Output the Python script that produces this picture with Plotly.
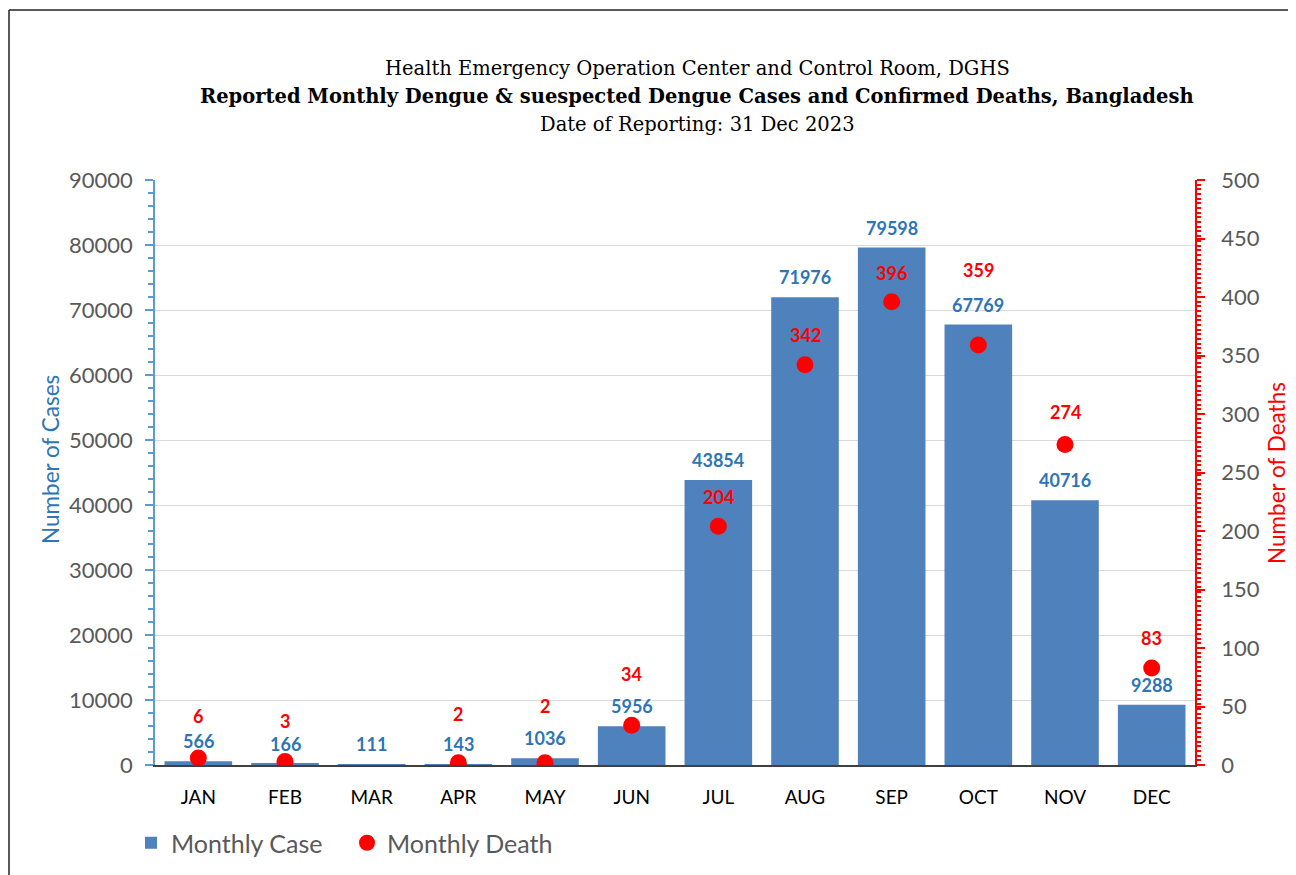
import plotly.graph_objects as go

months = ["JAN", "FEB", "MAR", "APR", "MAY", "JUN", "JUL", "AUG", "SEP", "OCT", "NOV", "DEC"]
cases = [566, 166, 111, 143, 1036, 5956, 43854, 71976, 79598, 67769, 40716, 9288]
deaths = [6, 3, None, 2, 2, 34, 204, 342, 396, 359, 274, 83]
# label vertical offsets (pixels) for death labels, as placed in the original
death_label_shift = [42, 40, 0, 49, 57, 51, 29, 30, 29, 75, 32, 30]

title1 = "Health Emergency Operation Center and Control Room, DGHS"
title2 = "Reported Monthly Dengue & suespected Dengue Cases and Confirmed Deaths, Bangladesh"
title3 = "Date of Reporting: 31 Dec 2023"

BLUE_BAR = "#4F81BD"
BLUE_TXT = "#2E75B6"
BLUE_AX = "#5B9BD5"
RED = "#FF0000"
GRAY = "#595959"
FONT = "Lato"
SERIF = "DejaVu Serif"

# plot area in page pixels: x 155..1195, y 180..765
PX0, PW, PY0, PH = 155, 1040, 765, 585
def px(x):
    return (x - PX0) / PW
def py(y):
    return (PY0 - y) / PH

fig = go.Figure()
fig.add_trace(go.Bar(
    x=months, y=cases, name="Monthly Case", marker=dict(color=BLUE_BAR, line=dict(width=0)),
    yaxis="y", legend="legend",
))
fig.add_trace(go.Scatter(
    x=months, y=deaths, name="Monthly Death", mode="markers",
    marker=dict(color=RED, size=17), yaxis="y2", legend="legend2",
))

ann = []
for m, c in zip(months, cases):
    ann.append(dict(x=m, y=c, xref="x", yref="y", text=f"<b>{c}</b>", showarrow=False,
                    yanchor="middle", yshift=20,
                    font=dict(family=FONT, size=18, color=BLUE_TXT)))
for m, d, s in zip(months, deaths, death_label_shift):
    if d is None:
        continue
    ann.append(dict(x=m, y=d, xref="x", yref="y2", text=f"<b>{d}</b>", showarrow=False,
                    yanchor="middle", yshift=s,
                    font=dict(family=FONT, size=18, color=RED)))

# titles
for txt, yy in [(title1, 68), (f"<b>{title2}</b>", 96), (title3, 125)]:
    ann.append(dict(x=px(697), y=py(yy), xref="paper", yref="paper", text=txt, showarrow=False,
                    xanchor="center", yanchor="middle",
                    font=dict(family=SERIF, size=19.5, color="black")))

# axis titles
ann.append(dict(x=px(50), y=py(460), xref="paper", yref="paper", text="Number of Cases",
                showarrow=False, textangle=-90, xanchor="center", yanchor="middle",
                font=dict(family=FONT, size=22.5, color=BLUE_TXT)))
ann.append(dict(x=px(1276), y=py(473), xref="paper", yref="paper", text="Number of Deaths",
                showarrow=False, textangle=-90, xanchor="center", yanchor="middle",
                font=dict(family=FONT, size=22.5, color=RED)))

fig.update_layout(
    width=1288, height=867,
    margin=dict(l=147, r=101, t=172, b=110, autoexpand=False),
    paper_bgcolor="white", plot_bgcolor="white",
    bargap=0.22,
    showlegend=True,
    legend=dict(orientation="h", x=px(131), xanchor="left", y=py(843), yanchor="middle",
                font=dict(family=FONT, size=25, color=GRAY), itemwidth=30),
    legend2=dict(orientation="h", x=px(347), xanchor="left", y=py(843), yanchor="middle",
                 font=dict(family=FONT, size=25, color=GRAY), itemwidth=30),
    xaxis=dict(
        range=[-0.5, 11.5],
        showline=True, linecolor="#404040", linewidth=1.5, ticks="",
        tickfont=dict(family=FONT, size=19, color="black"),
        showgrid=False, ticklabelstandoff=14,
    ),
    yaxis=dict(
        range=[0, 90000], dtick=10000, tickmode="linear", tickformat="d",
        showline=True, linecolor=BLUE_AX, linewidth=1.5,
        ticks="outside", ticklen=8, tickcolor=BLUE_AX, tickwidth=1.5,
        minor=dict(dtick=2000, ticks="outside", ticklen=5, tickcolor=BLUE_AX, showgrid=False),
        showgrid=True, gridcolor="#D9D9D9", gridwidth=1,
        tickfont=dict(family=FONT, size=22, color=GRAY),
        zeroline=False, ticklabelstandoff=8, automargin=False,
    ),
    yaxis2=dict(
        range=[0, 500], dtick=50, tickmode="linear", overlaying="y", side="right",
        showline=True, linecolor=RED, linewidth=1.5,
        ticks="outside", ticklen=8, tickcolor=RED, tickwidth=1.5,
        minor=dict(dtick=4, ticks="outside", ticklen=4, tickcolor=RED, showgrid=False),
        showgrid=False, zeroline=False,
        tickfont=dict(family=FONT, size=22, color=GRAY),
        ticklabelstandoff=12, automargin=False,
    ),
    annotations=ann,
    shapes=[
        dict(type="line", xref="paper", yref="paper", x0=px(9), x1=px(1400), y0=py(10), y1=py(10),
             line=dict(color="#222222", width=1.5), layer="below"),
        dict(type="line", xref="paper", yref="paper", x0=px(9), x1=px(9), y0=py(10), y1=py(1000),
             line=dict(color="#222222", width=1.5), layer="below"),
    ],
)

fig.write_html("out.html")
